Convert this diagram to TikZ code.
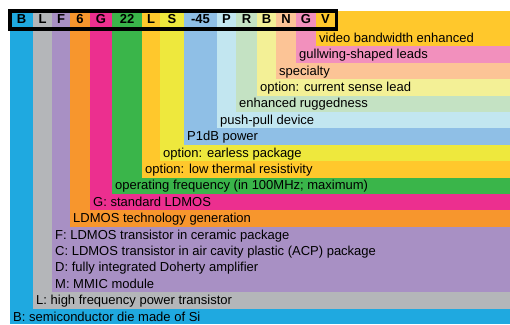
\documentclass[tikz,border=0pt]{standalone}
\usepackage{fontspec}
\setmainfont{Liberation Sans}
\usepackage{xcolor}
\definecolor{colB}{RGB}{31,169,224}
\definecolor{colL}{RGB}{180,182,185}
\definecolor{colF}{RGB}{168,144,196}
\definecolor{colSix}{RGB}{247,150,45}
\definecolor{colG}{RGB}{236,47,143}
\definecolor{colTT}{RGB}{58,181,74}
\definecolor{colLL}{RGB}{255,200,44}
\definecolor{colS}{RGB}{238,232,61}
\definecolor{colFF}{RGB}{143,191,230}
\definecolor{colP}{RGB}{194,230,240}
\definecolor{colR}{RGB}{196,226,195}
\definecolor{colBB}{RGB}{243,240,150}
\definecolor{colN}{RGB}{252,196,150}
\definecolor{colGG}{RGB}{242,144,189}
\definecolor{colV}{RGB}{255,200,44}
\tikzset{
  code/.style={
    inner sep = 0pt,
    font = \fontsize{13}{15}\selectfont\bfseries,
    text height = 9.3pt,
    text depth = 0pt
  },
  note/.style={
    anchor = west,
    inner sep = 0pt,
    font = \fontsize{13}{15}\selectfont,
    text height = 10pt,
    text depth = 2pt
  },
  %frame/.style={
  %  draw = black,
  %  line width = 4pt
  %},
  codebox/.style={
    draw = black,
    line width = 3.6pt
  }
}

\begin{document}
\begin{tikzpicture}[x=1pt,y=-1pt]
    \useasboundingbox (0,0) rectangle (510,324);
    % coloured columns, largest first
    \fill[colB] (10,11) rectangle (510,324);
    \fill[colL] (33,11) rectangle (510,308.8);
    \fill[colF] (52,11) rectangle (510,292.4);
    \fill[colSix] (70,11) rectangle (510,226.8);
    \fill[colG] (90,11) rectangle (510,210.4);
    \fill[colTT] (112,11) rectangle (510,194);
    \fill[colLL] (142,11) rectangle (510,177.6);
    \fill[colS] (160,11) rectangle (510,161.2);
    \fill[colFF] (184,11) rectangle (510,144.8);
    \fill[colP] (217,11) rectangle (510,128.4);
    \fill[colR] (236,11) rectangle (510,112);
    \fill[colBB] (257,11) rectangle (510,95.6);
    \fill[colN] (276,11) rectangle (510,79.2);
    \fill[colGG] (296,11) rectangle (510,62.8);
    \fill[colV] (316,11) rectangle (510,46.4);
    % type number
    \node[code] (hB) at (21.5,18.6) {B};
    \node[code] (hL) at (42.5,18.6) {L};
    \node[code] (hF) at (61,18.6) {F};
    \node[code] (hSix) at (80,18.6) {6};
    \node[code] (hG) at (101,18.6) {G};
    \node[code] (hTT) at (127,18.6) {22};
    \node[code] (hLL) at (151,18.6) {L};
    \node[code] (hS) at (172,18.6) {S};
    \node[code] (hFF) at (200.5,18.6) {-45};
    \node[code] (hP) at (226.5,18.6) {P};
    \node[code] (hR) at (246.5,18.6) {R};
    \node[code] (hBB) at (266.5,18.6) {B};
    \node[code] (hN) at (286,18.6) {N};
    \node[code] (hGG) at (306,18.6) {G};
    \node[code] (hV) at (325.5,18.6) {V};
    \draw[codebox] (10,11) rectangle (336.5,29);
    % meanings
    \node[note] (tV) at (319,38.2) {video bandwidth enhanced};
    \node[note] (tGG) at (299,54.6) {gullwing-shaped leads};
    \node[note] (tN) at (279,71) {specialty};
    \node[note] (tBB) at (260,87.4) {option: current sense lead};
    \node[note] (tR) at (239,103.8) {enhanced ruggedness};
    \node[note] (tP) at (220,120.2) {push-pull device};
    \node[note] (tFF) at (187,136.6) {P1dB power};
    \node[note] (tS) at (163,153) {option: earless package};
    \node[note] (tLL) at (145,169.4) {option: low thermal resistivity};
    \node[note] (tTT) at (115,185.8) {operating frequency (in 100MHz; maximum)};
    \node[note] (tG) at (93,202.2) {G: standard LDMOS};
    \node[note] (tSix) at (73,218.6) {LDMOS technology generation};
    \node[note] (tF1) at (55,235) {F: LDMOS transistor in ceramic package};
    \node[note] (tF2) at (55,251.4) {C: LDMOS transistor in air cavity plastic (ACP) package};
    \node[note] (tF3) at (55,267.8) {D: fully integrated Doherty amplifier};
    \node[note] (tF4) at (55,284.2) {M: MMIC module};
    \node[note] (tL) at (36,300.6) {L: high frequency power transistor};
    \node[note] (tB) at (13,317) {B: semiconductor die made of Si};
\end{tikzpicture}
\end{document}
